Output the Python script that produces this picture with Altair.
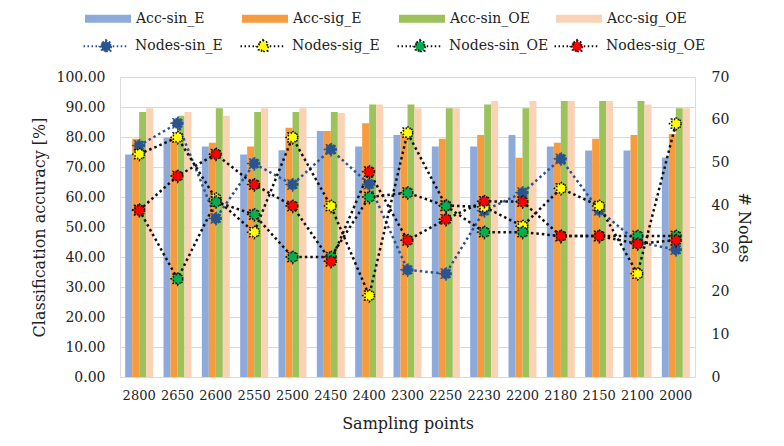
import math
import altair as alt
import pandas as pd

cats = ["2800", "2650", "2600", "2550", "2500", "2450", "2400", "2300",
        "2250", "2230", "2200", "2180", "2150", "2100", "2000"]

bar_series = ["Acc-sin_E", "Acc-sig_E", "Acc-sin_OE", "Acc-sig_OE"]
acc_sin_E = [74.2, 79.8, 76.8, 74.2, 75.6, 82.0, 76.8, 80.7, 76.8, 76.8, 80.7, 76.8, 75.5, 75.5, 73.2]
acc_sig_E = [79.4, 80.1, 78.1, 76.8, 83.1, 82.0, 84.6, 81.3, 79.4, 80.7, 73.1, 78.1, 79.4, 80.7, 81.0]
acc_sin_OE = [88.3, 87.1, 89.6, 88.3, 88.3, 88.3, 90.8, 90.8, 89.6, 90.8, 89.6, 92.0, 92.0, 92.0, 89.6]
acc_sig_OE = [89.6, 88.3, 87.1, 89.6, 89.6, 88.0, 90.8, 89.6, 89.6, 92.0, 92.0, 92.0, 92.0, 90.8, 89.6]

line_series = ["Nodes-sin_E", "Nodes-sig_E", "Nodes-sin_OE", "Nodes-sig_OE"]
nodes_sin_E = [54.0, 59.2, 37.0, 49.8, 44.9, 53.1, 45.0, 25.0, 24.1, 38.8, 43.0, 50.9, 38.9, 31.5, 29.7]
nodes_sig_E = [52.0, 55.9, 41.6, 33.8, 55.9, 39.9, 19.0, 57.0, 40.0, 39.7, 35.2, 44.0, 39.9, 24.1, 59.1]
nodes_sin_OE = [39.0, 22.9, 40.9, 37.9, 28.0, 28.0, 42.0, 43.0, 39.9, 33.8, 33.8, 32.9, 32.9, 32.9, 32.9]
nodes_sig_OE = [38.9, 46.9, 52.0, 44.9, 39.9, 27.0, 47.9, 31.9, 36.8, 41.0, 40.9, 32.9, 32.9, 31.1, 31.9]

bar_colors = ["#8DAADB", "#F79B3C", "#9DC15B", "#FAD3B6"]
marker_fill = ["#2A5490", "#FFFF00", "#00B050", "#FF0000"]
line_colors = ["#2A5490", "#111111", "#111111", "#111111"]

bar_rows = []
for s, vals in zip(bar_series, [acc_sin_E, acc_sig_E, acc_sin_OE, acc_sig_OE]):
    for c, v in zip(cats, vals):
        bar_rows.append({"sp": c, "series": s, "acc": v})
bars_df = pd.DataFrame(bar_rows)

line_rows = []
for s, vals in zip(line_series, [nodes_sin_E, nodes_sig_E, nodes_sin_OE, nodes_sig_OE]):
    for c, v in zip(cats, vals):
        line_rows.append({"sp": c, "nseries": s, "nodes": v})
lines_df = pd.DataFrame(line_rows)

# 8-point star symbol path in [-1, 1]
def star_path(r_out=1.0, r_in=0.7, n=8, scale=1.0):
    pts = []
    for k in range(2 * n):
        r = (r_out if k % 2 == 0 else r_in) * scale
        a = math.pi * k / n - math.pi / 2
        pts.append((r * math.cos(a), r * math.sin(a)))
    return "M" + "L".join(f"{x:.3f},{y:.3f}" for x, y in pts) + "Z"

STAR = star_path()
LEG_LINE_SYM = "M-2.5,0L-0.75,0M0.75,0L2.5,0" + star_path(scale=0.7)
LEG_BAR_SYM = "M-2,-0.35L2,-0.35L2,0.35L-2,0.35Z"

FONT = "DejaVu Serif"
TXT = "#222222"
LS = 14   # y tick / legend label size
XS = 13   # x tick label size
TS = 16   # title size

xenc = alt.X("sp:N", sort=cats,
             scale=alt.Scale(paddingInner=0.27, paddingOuter=0.135),
             axis=alt.Axis(title="Sampling points", labelAngle=0, ticks=False,
                           domain=False, labelFontSize=XS, titleFontSize=TS,
                           labelPadding=12, titlePadding=13, labelFont=FONT,
                           titleFont=FONT, labelColor=TXT, titleColor=TXT,
                           titleFontWeight="normal"))

bars = alt.Chart(bars_df).mark_bar().encode(
    x=xenc,
    xOffset=alt.XOffset("series:N", sort=bar_series),
    y=alt.Y("acc:Q", scale=alt.Scale(domain=[0, 100]),
            axis=alt.Axis(title="Classification accuracy [%]", format=".2f",
                          values=list(range(0, 101, 10)), ticks=False, domain=False,
                          gridColor="#D9D9D9", labelFontSize=LS, titleFontSize=TS,
                          labelPadding=15, titlePadding=9, labelFont=FONT,
                          titleFont=FONT, labelColor=TXT, titleColor=TXT,
                          titleFontWeight="normal")),
    color=alt.Color("series:N", sort=bar_series,
                    scale=alt.Scale(domain=bar_series, range=bar_colors),
                    legend=alt.Legend(title=None, orient="none", legendX=-23.5, legendY=-70,
                                      direction="horizontal", columns=4, gridAlign="all",
                                      symbolType=LEG_BAR_SYM, symbolSize=529,
                                      symbolStrokeWidth=0, labelFontSize=LS,
                                      labelFont=FONT, labelColor=TXT, labelOffset=16.5,
                                      columnPadding=25)),
)

line_legend = alt.Legend(title=None, orient="none", legendX=-24, legendY=-41,
                         direction="horizontal", columns=4, gridAlign="all",
                         symbolType=LEG_LINE_SYM, symbolSize=324,
                         symbolStrokeWidth=2, symbolDash=[1.5, 2.5],
                         labelFontSize=LS, labelFont=FONT, labelColor=TXT,
                         labelOffset=19, columnPadding=1)

yright = alt.Y("nodes:Q", scale=alt.Scale(domain=[0, 70]),
               axis=alt.Axis(title="# Nodes", orient="right", values=list(range(0, 71, 10)),
                             grid=False, ticks=False, domain=False, labelFontSize=LS,
                             titleFontSize=TS, labelPadding=16, titlePadding=7,
                             labelFont=FONT, titleFont=FONT, labelColor=TXT,
                             titleColor=TXT, titleFontWeight="normal"))

strokeenc = alt.Stroke("nseries:N", sort=line_series,
                       scale=alt.Scale(domain=line_series, range=line_colors),
                       legend=line_legend)

lines = alt.Chart(lines_df).mark_line(strokeDash=[2.5, 3], strokeWidth=2.5).encode(
    x=alt.X("sp:N", sort=cats),
    y=yright,
    stroke=strokeenc,
    detail="nseries:N",
)

pts = alt.Chart(lines_df).mark_point(shape=STAR, size=160, filled=False, opacity=1,
                                     strokeWidth=1.6, strokeDash=[1.5, 1.5]).encode(
    x=alt.X("sp:N", sort=cats),
    y=yright,
    stroke=strokeenc,
    fill=alt.Fill("nseries:N", sort=line_series,
                  scale=alt.Scale(domain=line_series, range=marker_fill),
                  legend=line_legend),
)

chart = alt.layer(bars, alt.layer(lines, pts)).resolve_scale(y="independent").properties(
    width=575, height=300,
    autosize=alt.AutoSizeParams(type="none"),
    padding={"left": 120, "top": 77, "right": 89, "bottom": 69},
).configure_view(stroke=None).configure(background="white", font=FONT)

chart.save("out.html", embed_options={"renderer": "svg", "actions": False})
